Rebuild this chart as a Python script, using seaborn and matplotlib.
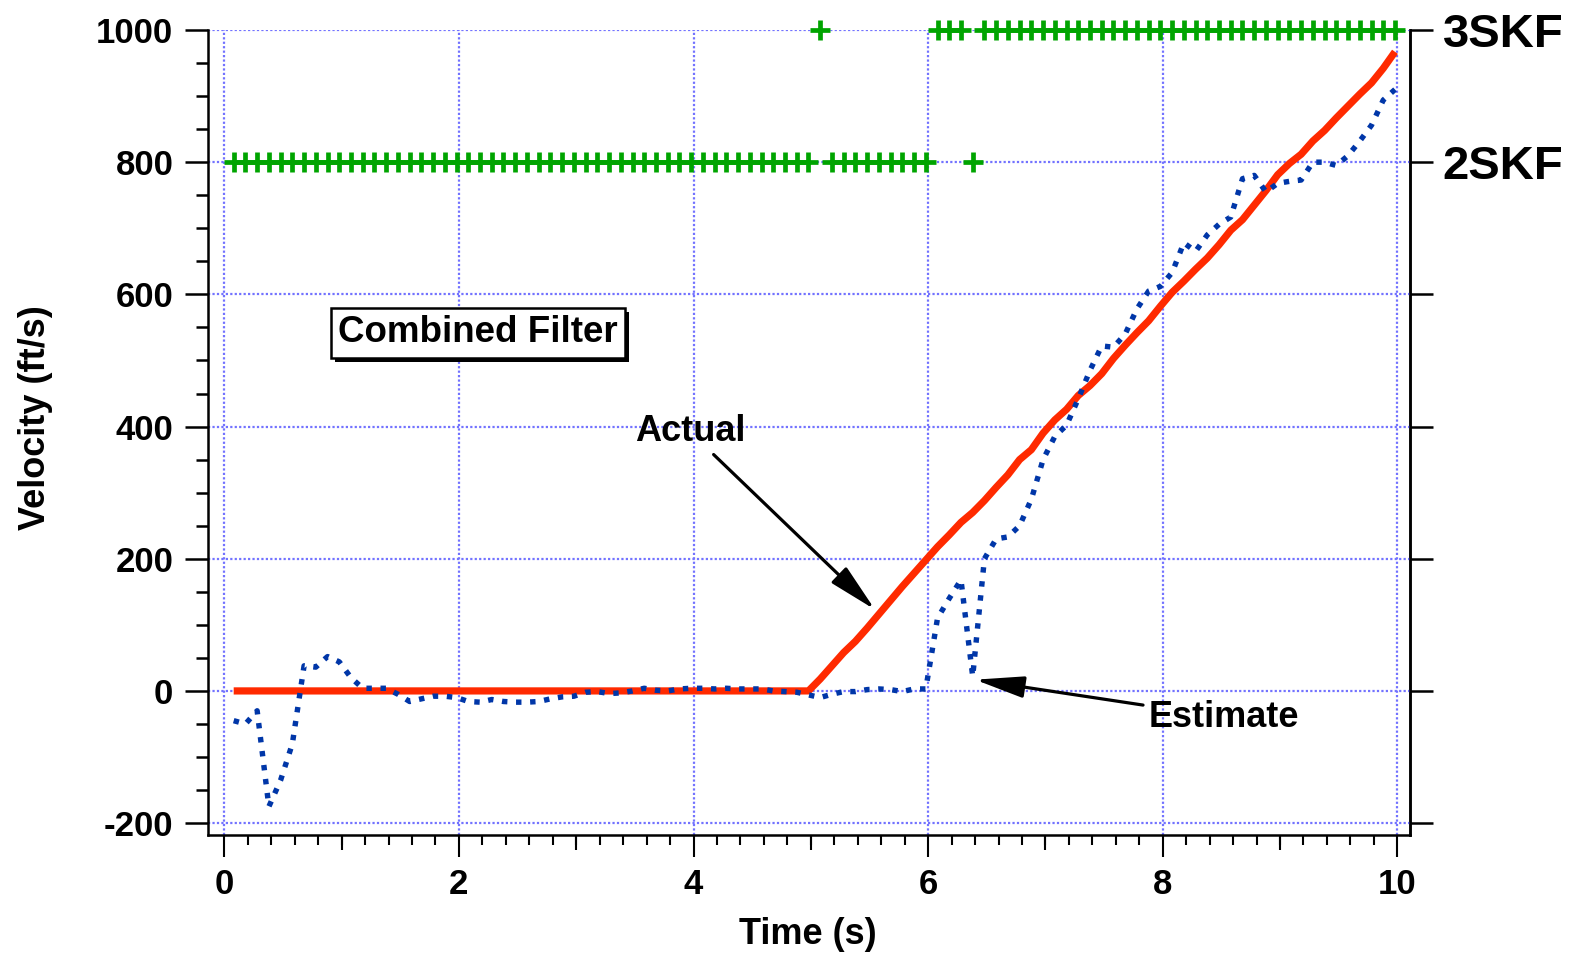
import matplotlib
matplotlib.use("Agg")
import matplotlib.pyplot as plt
import seaborn as sns
import pandas as pd
from matplotlib import patheffects
from matplotlib.ticker import MultipleLocator

# ---------------- data ----------------
time_s = [round(0.08 + 0.1 * k, 2) for k in range(100)]

actual = [0] * 50 + [
    18, 38, 58, 75, 95, 116, 137, 158, 178, 198,
    218, 236, 255, 270, 288, 308, 327, 350, 365, 390,
    410, 426, 447, 462, 480, 503, 523, 542, 560, 582,
    603, 620, 638, 655, 675, 697, 713, 735, 757, 781,
    798, 812, 832, 848, 867, 885, 903, 920, 942, 967,
]

estimate = [
    -45, -50, -30, -175, -135, -80, 38, 36, 52, 44,
    20, 4, 4, 4, -5, -16, -12, -8, -8, -10,
    -16, -17, -13, -16, -17, -17, -16, -12, -9, -8,
    -2, -1, -4, -3, 0, 4, 1, 0, 3, 4,
    4, 3, 4, 3, 3, 3, 0, -1, -2, -6,
    -10, -5, -1, -1, 2, 3, 2, -1, 3, 3,
    110, 140, 168, 22, 200, 230, 233, 250, 290, 350,
    385, 402, 442, 485, 522, 520, 540, 578, 605, 612,
    633, 678, 665, 690, 706, 717, 775, 780, 755, 768,
    771, 773, 800, 800, 795, 810, 832, 856, 894, 910,
]

# active filter at each time step (2 = 2SKF, 3 = 3SKF)
mode = [2] * 50 + [3] + [2] * 9 + [3] * 3 + [2] + [3] * 36
mode_levels = {2: 800, 3: 1000}
mode_names = {2: "2SKF", 3: "3SKF"}

x_ticks = [0, 2, 4, 6, 8, 10]
x_mid_ticks = [1, 3, 5, 7, 9]
y_ticks = [-200, 0, 200, 400, 600, 800, 1000]

df = pd.DataFrame({
    "time": time_s,
    "actual": actual,
    "estimate": estimate,
    "level": [mode_levels[m] for m in mode],
})

# ---------------- style ----------------
sns.set_theme(style="ticks")
plt.rcParams["font.family"] = ["Liberation Sans", "DejaVu Sans"]
plt.rcParams["font.weight"] = "bold"
plt.rcParams["axes.labelweight"] = "bold"
plt.rcParams["text.color"] = "black"
plt.rcParams["axes.labelcolor"] = "black"
plt.rcParams["xtick.color"] = "black"
plt.rcParams["ytick.color"] = "black"
plt.rcParams["axes.unicode_minus"] = False

fig = plt.figure(figsize=(15.74, 9.55), dpi=100)
ax = fig.add_axes([0.13215, 0.12565, 0.76366, 0.84294])

grid_color = "#7272ff"
ax.set_axisbelow(True)

sns.lineplot(data=df, x="time", y="actual", ax=ax, color="#ff2a00",
             lw=5.2, zorder=3, solid_capstyle="butt")
sns.lineplot(data=df, x="time", y="estimate", ax=ax, color="#0036a8",
             lw=3.9, linestyle=(0, (1, 1.6)), dash_capstyle="butt", zorder=4)
sns.scatterplot(data=df, x="time", y="level", ax=ax, marker="+", s=15 ** 2,
                linewidth=3.4, color="#00a400", zorder=5, clip_on=False)

ax.set_xlim(-0.139, 10.108)
ax.set_ylim(-218, 1000)

ax.set_xticks(x_ticks)
ax.set_yticks(y_ticks)
ax.xaxis.set_minor_locator(MultipleLocator(0.2))
ax.yaxis.set_minor_locator(MultipleLocator(50))
ax.grid(True, which="major", color=grid_color, linestyle=(0, (1, 1)), linewidth=1.6)

for side in ["left", "right", "bottom"]:
    ax.spines[side].set_color("black")
    ax.spines[side].set_linewidth(1.8)
ax.spines["top"].set_visible(False)

ax.tick_params(axis="y", which="major", direction="out", length=16.5, width=1.8,
               labelsize=25, pad=8.5, colors="black", left=True)
ax.tick_params(axis="y", which="minor", direction="out", length=8.6, width=1.8, left=True)
ax.tick_params(axis="x", which="major", direction="out", length=15.8, width=1.5,
               labelsize=25, pad=8, colors="black", bottom=True)
ax.tick_params(axis="x", which="minor", direction="out", length=7.2, width=1.5, bottom=True)
for lab in ax.get_xticklabels() + ax.get_yticklabels():
    lab.set_fontweight("bold")

# medium ticks at odd seconds
secx = ax.secondary_xaxis("bottom")
secx.set_xticks(x_mid_ticks, labels=[""] * len(x_mid_ticks))
secx.tick_params(direction="out", length=10.8, width=1.5, colors="black")
secx.spines["bottom"].set_visible(False)

# right axis: filter names
secy = ax.secondary_yaxis("right")
level_to_name = {mode_levels[k]: mode_names[k] for k in mode_levels}
right_labels = [level_to_name.get(v, "") for v in y_ticks]
secy.set_yticks(y_ticks, labels=right_labels)
secy.tick_params(direction="out", length=16.5, width=1.8, labelsize=34, pad=7, colors="black")
secy.spines["right"].set_linewidth(1.8)
secy.spines["right"].set_color("black")
for lab in secy.get_yticklabels():
    lab.set_fontweight("bold")

ax.set_xlabel("Time (s)", fontsize=26, fontweight="bold", va="center", color="black")
ax.xaxis.set_label_coords(0.499, -0.124)
ax.set_ylabel("Velocity (ft/s)", fontsize=26, fontweight="bold", va="center", color="black")
ax.yaxis.set_label_coords(-0.1435, 0.519)

# title box with shadow
t = ax.text(2.163, 542, "Combined Filter", fontsize=26.5, fontweight="bold",
            ha="center", va="center", zorder=6, color="black",
            bbox=dict(boxstyle="square,pad=0.2", facecolor="white",
                      edgecolor="black", linewidth=1.8))
t.get_bbox_patch().set_path_effects([
    patheffects.SimplePatchShadow(offset=(3, -3), shadow_rgbFace="black", alpha=1.0),
    patheffects.Normal(),
])

arrow_kw = dict(arrowstyle="-|>,head_length=1.0,head_width=0.22", color="black",
                lw=2.3, mutation_scale=30, shrinkA=2, shrinkB=0)
ax.annotate("Actual", xy=(5.547, 123), xytext=(3.97, 392), fontsize=26,
            fontweight="bold", ha="center", va="center", zorder=7, color="black",
            arrowprops=arrow_kw)
ax.annotate("Estimate", xy=(6.40, 17), xytext=(8.525, -40), fontsize=26,
            fontweight="bold", ha="center", va="center", zorder=7, color="black",
            arrowprops=arrow_kw)

leg = ax.get_legend()
if leg is not None:
    leg.remove()

fig.savefig("out.png", dpi=100)
